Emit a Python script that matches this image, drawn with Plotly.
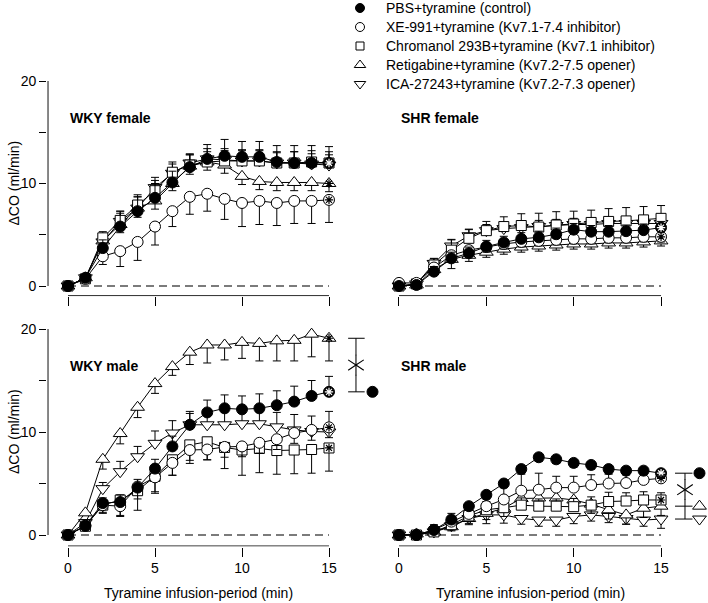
import plotly.graph_objects as go

# time axis (min) and group names
minutes = list(range(16))
groups = ["PBS+tyramine (control)",
          "XE-991+tyramine (Kv7.1-7.4 inhibitor)",
          "Chromanol 293B+tyramine (Kv7.1 inhibitor)",
          "Retigabine+tyramine (Kv7.2-7.5 opener)",
          "ICA-27243+tyramine (Kv7.2-7.3 opener)"]
panel_titles = ["WKY female", "SHR female", "WKY male", "SHR male"]

# WKY female
pbs_wf = [0, 0.8, 3.7, 5.8, 7.3, 8.6, 10.1, 11.6, 12.4, 12.7, 12.6, 12.6, 12.1, 12.0, 12.0, 12.0]
pbs_wf_err = [0, 0.3, 0.8, 1.3, 1.4, 1.4, 1.1, 1.2, 1.4, 1.6, 1.5, 1.5, 1.6, 1.7, 1.7, 1.6]
xe_wf = [0, 0.7, 2.9, 3.4, 4.3, 5.8, 7.3, 8.7, 9.0, 8.5, 8.1, 8.3, 8.1, 8.3, 8.3, 8.4]
xe_wf_err = [0, 0.3, 0.8, 1.5, 1.8, 1.8, 1.5, 1.7, 1.7, 2.0, 2.3, 2.3, 2.2, 2.2, 2.2, 2.2]
chr_wf = [0, 0.7, 4.7, 6.4, 7.9, 9.3, 11.1, 11.8, 12.1, 12.2, 12.2, 12.2, 12.0, 12.0, 12.1, 12.0]
chr_wf_err = [0, 0.3, 0.6, 0.9, 1.0, 1.0, 1.0, 1.0, 1.0, 1.0, 1.1, 1.1, 1.1, 1.1, 1.1, 1.1]
ret_wf = [0, 0.8, 4.4, 6.0, 7.6, 8.3, 10.0, 11.7, 12.1, 11.8, 10.7, 10.2, 10.1, 10.1, 10.1, 10.0]
ret_wf_err = [0, 0.2, 0.6, 0.8, 0.9, 0.8, 0.7, 0.8, 0.8, 0.8, 0.8, 0.8, 0.8, 0.8, 0.8, 0.8]
ica_wf = [0, 0.8, 4.3, 6.3, 7.6, 9.6, 11.0, 12.0, 12.4, 12.3, 12.2, 12.2, 12.0, 12.0, 11.9, 11.8]
ica_wf_err = [0, 0.3, 0.5, 1.0, 1.1, 1.0, 0.9, 0.9, 1.0, 1.1, 1.0, 1.0, 1.0, 1.1, 1.0, 1.0]

# SHR female
pbs_sf = [0, 0.1, 1.4, 2.7, 3.2, 3.85, 4.25, 4.6, 4.75, 5.05, 5.5, 5.3, 5.3, 5.35, 5.45, 5.7]
pbs_sf_err = [0, 0.1, 0.5, 0.6, 0.6, 0.6, 0.6, 0.6, 0.6, 0.6, 0.6, 0.6, 0.6, 0.6, 0.6, 0.6]
xe_sf = [0.3, 0.3, 1.8, 3.0, 3.5, 3.8, 4.1, 4.3, 4.4, 4.5, 4.6, 4.6, 4.7, 4.7, 4.8, 4.8]
xe_sf_err = [0, 0.1, 0.4, 0.5, 0.5, 0.5, 0.5, 0.5, 0.5, 0.5, 0.5, 0.5, 0.5, 0.5, 0.5, 0.5]
chr_sf = [0, 0.2, 2.05, 3.5, 4.65, 5.4, 5.8, 5.9, 5.75, 5.95, 6.05, 6.2, 6.3, 6.35, 6.45, 6.6]
chr_sf_err = [0, 0.2, 0.6, 1.05, 0.9, 0.9, 0.95, 1.15, 1.35, 1.3, 1.25, 1.2, 1.25, 1.3, 1.3, 1.25]
ret_sf = [0, 0.1, 1.6, 2.6, 3.0, 3.3, 3.6, 3.8, 3.9, 4.0, 4.1, 4.1, 4.2, 4.2, 4.3, 4.4]
ret_sf_err = [0, 0.1, 0.5, 0.9, 0.6, 0.5, 0.5, 0.5, 0.5, 0.5, 0.5, 0.5, 0.5, 0.5, 0.5, 0.5]
ica_sf = [0, 0.2, 2.2, 3.9, 4.9, 5.4, 5.6, 5.7, 5.8, 5.9, 6.0, 6.0, 6.1, 6.1, 6.1, 6.1]
ica_sf_err = [0, 0.2, 0.5, 0.6, 0.6, 0.6, 0.6, 0.6, 0.6, 0.6, 0.6, 0.6, 0.6, 0.6, 0.6, 0.6]

# WKY male
pbs_wm = [0, 0.9, 3.1, 3.2, 4.6, 6.45, 8.6, 10.7, 11.9, 12.3, 12.2, 12.3, 12.6, 12.95, 13.5, 13.9]
pbs_wm_err = [0, 0.3, 0.5, 0.7, 0.8, 0.9, 1.0, 1.1, 1.2, 1.3, 1.3, 1.4, 1.4, 1.5, 1.5, 1.5]
xe_wm = [0, 0.9, 2.9, 2.8, 4.7, 5.6, 7.0, 8.25, 8.3, 8.55, 8.6, 8.95, 9.3, 9.9, 10.2, 10.45]
xe_wm_err = [0, 0.2, 0.7, 1.0, 1.2, 1.4, 1.2, 1.0, 1.0, 1.0, 1.0, 1.0, 1.0, 1.0, 1.0, 1.0]
chr_wm = [0, 0.85, 2.9, 3.4, 4.3, 5.7, 7.3, 8.75, 9.05, 8.5, 8.25, 8.4, 8.2, 8.25, 8.3, 8.45]
chr_wm_err = [0, 0.3, 0.8, 1.5, 1.9, 1.65, 1.5, 1.8, 1.75, 2.05, 2.45, 2.35, 2.3, 2.3, 2.3, 2.25]
ret_wm = [0, 2.15, 7.35, 9.85, 12.4, 14.7, 16.35, 17.75, 18.45, 18.45, 18.7, 18.6, 18.85, 18.9, 19.5, 19.1]
ret_wm_err = [0, 0.2, 0.95, 1.0, 1.0, 0.95, 0.85, 1.2, 1.75, 1.45, 1.55, 1.7, 1.95, 2.0, 2.2, 2.2]
ica_wm = [0, 1.2, 4.5, 6.15, 7.6, 8.9, 9.9, 10.7, 10.7, 10.7, 10.8, 10.8, 10.5, 10.2, 10.05, 10.0]
ica_wm_err = [0, 0.3, 0.6, 1.0, 1.0, 1.2, 1.2, 1.3, 1.3, 1.4, 1.4, 1.4, 1.4, 1.5, 1.5, 2.0]

# SHR male
pbs_sm = [0, 0.0, 0.5, 1.5, 2.8, 3.9, 5.0, 6.4, 7.55, 7.35, 7.0, 6.8, 6.4, 6.25, 6.25, 6.0]
pbs_sm_err = [0, 0, 0.3, 0.4, 0.4, 0.4, 0.4, 0.4, 0.4, 0.4, 0.4, 0.4, 0.4, 0.4, 0.4, 0.4]
xe_sm = [0, 0, 0.5, 1.3, 2.05, 2.8, 3.45, 4.3, 4.4, 4.6, 4.6, 4.85, 5.0, 5.05, 5.35, 5.5]
xe_sm_err = [0, 0, 0.5, 0.8, 0.9, 1.2, 1.3, 1.6, 1.6, 1.1, 1.1, 1.0, 0.9, 0.8, 0.8, 0.7]
chr_sm = [0, 0, 0.3, 1.0, 1.85, 2.45, 2.65, 2.9, 2.8, 2.8, 2.75, 2.9, 3.25, 3.3, 3.4, 3.4]
chr_sm_err = [0, 0, 0.3, 0.6, 1.2, 0.8, 0.8, 0.7, 0.7, 0.7, 0.8, 0.8, 0.9, 0.8, 0.8, 0.7]
ret_sm = [0, 0.1, 0.3, 0.8, 1.6, 2.1, 2.6, 3.55, 3.6, 3.6, 3.4, 3.0, 2.45, 1.95, 2.6, 2.8]
ret_sm_err = [0, 0, 0.2, 0.4, 0.5, 0.6, 0.8, 0.9, 0.9, 0.9, 0.9, 0.9, 0.9, 0.9, 0.9, 0.9]
ica_sm = [0, 0, 0.3, 0.9, 1.6, 1.95, 1.95, 1.6, 1.45, 1.45, 1.8, 1.95, 1.8, 1.6, 1.45, 1.55]
ica_sm_err = [0, 0, 0.2, 0.4, 0.6, 0.85, 0.8, 0.55, 0.6, 0.6, 0.7, 0.6, 0.6, 0.55, 0.6, 0.9]

panel_data = [
    [(pbs_wf, pbs_wf_err), (xe_wf, xe_wf_err), (chr_wf, chr_wf_err), (ret_wf, ret_wf_err), (ica_wf, ica_wf_err)],
    [(pbs_sf, pbs_sf_err), (xe_sf, xe_sf_err), (chr_sf, chr_sf_err), (ret_sf, ret_sf_err), (ica_sf, ica_sf_err)],
    [(pbs_wm, pbs_wm_err), (xe_wm, xe_wm_err), (chr_wm, chr_wm_err), (ret_wm, ret_wm_err), (ica_wm, ica_wm_err)],
    [(pbs_sm, pbs_sm_err), (xe_sm, xe_sm_err), (chr_sm, chr_sm_err), (ret_sm, ret_sm_err), (ica_sm, ica_sm_err)],
]

# marker style per group: symbol, fill, size
styles = [("circle", "black", 11), ("circle", "white", 11), ("square", "white", 10),
          ("triangle-up", "white", 12), ("triangle-down", "white", 12)]
# error bar direction per panel (1 = up, -1 = down), same order as groups
err_dir = [[1, -1, 1, -1, 1], [1, -1, 1, -1, 1], [1, -1, -1, -1, 1], [-1, 1, 1, -1, -1]]
# groups carrying a significance star on the last point
star_groups = [[0, 1, 3], [0, 1], [0, 1, 2, 3], [0, 1, 2]]

FONT = "Arial, Liberation Sans, sans-serif"
W, H = 708, 603

# axis ranges and the detached axis line positions
xr_left = [-1.2, 17.9]
xr_right = [-1.2, 17.6]
yr_top = [-1.0, 20]
yr_bot = [-1.12, 20]
xline_top = -0.95
xline_bot = -1.07
yline_x = -1.15

fig = go.Figure()

draw_order = [4, 3, 2, 1, 0]
for p in range(4):
    ax = "" if p == 0 else str(p + 1)
    for g in draw_order:
        vals, err = panel_data[p][g]
        sym, fill, size = styles[g]
        zero = [0] * len(err)
        up = err_dir[p][g] > 0
        fig.add_trace(go.Scatter(
            x=minutes, y=vals, mode="lines+markers",
            line=dict(color="black", width=1),
            marker=dict(symbol=sym, size=size, color=fill, line=dict(color="black", width=1)),
            error_y=dict(type="data", symmetric=False,
                         array=err if up else zero, arrayminus=zero if up else err,
                         color="black", thickness=1, width=4),
            xaxis="x" + ax, yaxis="y" + ax, showlegend=False, cliponaxis=False))
    # stars on the final points
    for g in star_groups[p]:
        vals = panel_data[p][g][0]
        c = "white" if g == 0 else "black"
        fig.add_trace(go.Scatter(
            x=[minutes[-1]], y=[vals[-1]], mode="markers",
            marker=dict(symbol="asterisk-open", size=7, color=c, line=dict(color=c, width=1.2)),
            xaxis="x" + ax, yaxis="y" + ax, showlegend=False, cliponaxis=False,
            hoverinfo="skip"))

shapes = []
annotations = []
for p in range(4):
    ax = "" if p == 0 else str(p + 1)
    xref, yref = "x" + ax, "y" + ax
    xl = xline_top if p < 2 else xline_bot
    # detached x axis line
    shapes.append(dict(type="line", xref=xref, yref=yref, x0=0, x1=15, y0=xl, y1=xl,
                       line=dict(color="black", width=1)))
    # dashed zero line
    shapes.append(dict(type="line", xref=xref, yref=yref, x0=0, x1=15, y0=0, y1=0,
                       line=dict(color="#505050", width=1.3, dash="8px,5px"), layer="below"))
    if p % 2 == 0:
        shapes.append(dict(type="line", xref=xref, yref=yref, x0=yline_x, x1=yline_x, y0=0, y1=20,
                           line=dict(color="black", width=1)))
    annotations.append(dict(text="<b>%s</b>" % panel_titles[p], xref=xref, yref=yref,
                            x=0, y=16.4, xanchor="left", yanchor="middle", showarrow=False,
                            font=dict(size=14, family=FONT, color="black")))


def bracket(xref, yref, xv, x0, x1, y_top, y_bot, gap_mid):
    for yy in [y_top, y_bot]:
        shapes.append(dict(type="line", xref=xref, yref=yref, x0=x0, x1=x1, y0=yy, y1=yy,
                           line=dict(color="black", width=1)))
    shapes.append(dict(type="line", xref=xref, yref=yref, x0=xv, x1=xv, y0=y_top, y1=gap_mid + 0.95,
                       line=dict(color="black", width=1)))
    shapes.append(dict(type="line", xref=xref, yref=yref, x0=xv, x1=xv, y0=gap_mid - 0.95, y1=y_bot,
                       line=dict(color="black", width=1)))


def big_star(xa, ya, xv, yv):
    for s in ["y-up-open", "y-down-open"]:
        fig.add_trace(go.Scatter(x=[xv], y=[yv], mode="markers",
                                 marker=dict(symbol=s, size=13, color="black",
                                             line=dict(color="black", width=1.1)),
                                 xaxis=xa, yaxis=ya, showlegend=False, cliponaxis=False,
                                 hoverinfo="skip"))


def key(xa, ya, xv, yv, g, shrink=0):
    sym, fill, size = styles[g]
    fig.add_trace(go.Scatter(x=[xv], y=[yv], mode="markers",
                             marker=dict(symbol=sym, size=size - shrink, color=fill,
                                         line=dict(color="black", width=1)),
                             xaxis=xa, yaxis=ya, showlegend=False, cliponaxis=False,
                             hoverinfo="skip"))


# WKY male: retigabine vs control
top, bot = ret_wm[-1], pbs_wm[-1]
mid = (top + bot) / 2
bracket("x3", "y3", 16.55, 16.1, 17.05, top, bot, mid)
big_star("x3", "y3", 16.55, mid)
key("x3", "y3", 17.5, bot, 0)

# SHR male: control vs retigabine / ICA
top, m2, bot = pbs_sm[-1], ret_sm[-1], ica_sm[-1]
mid = (top + m2) / 2
bracket("x4", "y4", 16.37, 15.8, 16.8, top, bot, mid)
shapes.append(dict(type="line", xref="x4", yref="y4", x0=15.8, x1=16.8, y0=m2, y1=m2,
                   line=dict(color="black", width=1)))
big_star("x4", "y4", 16.37, mid)
key("x4", "y4", 17.2, top, 0)
key("x4", "y4", 17.2, m2, 3)
key("x4", "y4", 17.2, bot, 4)

# legend drawn on a hidden pixel-scaled overlay axis
for g in range(5):
    key("x5", "y5", 360, 8 + 19 * g, g, shrink=2)
    annotations.append(dict(text=groups[g], xref="x5", yref="y5", x=384, y=8 + 19 * g,
                            xanchor="left", yanchor="middle", showarrow=False,
                            font=dict(size=14, family=FONT, color="black")))

# axis titles
for ya in ["y", "y3"]:
    annotations.append(dict(text="\u0394CO (ml/min)", xref="paper", yref=ya, x=14 / W, y=10,
                            textangle=-90, showarrow=False, xanchor="center", yanchor="middle",
                            font=dict(size=14, family=FONT, color="black")))
for xa in ["x3", "x4"]:
    annotations.append(dict(text="Tyramine infusion-period (min)", xref=xa, yref="paper",
                            x=7.5, y=1 - 593 / H, showarrow=False, yanchor="middle",
                            font=dict(size=14, family=FONT, color="black")))

xdom_left = [(68 + 17.4 * xr_left[0]) / W, (68 + 17.4 * xr_left[1]) / W]
xdom_right = [(399 + 17.47 * xr_right[0]) / W, (399 + 17.47 * xr_right[1]) / W]
ydom_top = [1 - (286 - 10.25 * yr_top[0]) / H, 1 - (286 - 10.25 * yr_top[1]) / H]
ydom_bot = [1 - (535 - 10.3 * yr_bot[0]) / H, 1 - (535 - 10.3 * yr_bot[1]) / H]

xcommon = dict(tickvals=[0, 5, 10, 15], ticks="outside", ticklen=9, tickcolor="black",
               showline=False, showgrid=False, zeroline=False,
               tickfont=dict(size=14, family=FONT, color="black"))
ybase = dict(showline=False, showgrid=False, zeroline=False)
yleft = dict(tickvals=[0, 5, 10, 15, 20], ticktext=["0", "", "10", "", "20"], ticks="outside",
             ticklen=7, tickcolor="black", tickfont=dict(size=14, family=FONT, color="black"))
yright = dict(showticklabels=False, ticks="")
hidden = dict(visible=False, showgrid=False, zeroline=False, domain=[0, 1], fixedrange=True)

fig.update_layout(
    width=W, height=H, margin=dict(l=0, r=0, t=0, b=0, autoexpand=False),
    plot_bgcolor="rgba(0,0,0,0)", paper_bgcolor="white", showlegend=False,
    font=dict(family=FONT, size=14, color="black"),
    xaxis=dict(domain=xdom_left, range=xr_left, anchor="y", showticklabels=False, **xcommon),
    xaxis2=dict(domain=xdom_right, range=xr_right, anchor="y2", showticklabels=False, **xcommon),
    xaxis3=dict(domain=xdom_left, range=xr_left, anchor="y3", **xcommon),
    xaxis4=dict(domain=xdom_right, range=xr_right, anchor="y4", **xcommon),
    xaxis5=dict(range=[0, W], anchor="y5", **hidden),
    yaxis=dict(domain=ydom_top, range=yr_top, anchor="x", **ybase, **yleft),
    yaxis2=dict(domain=ydom_top, range=yr_top, anchor="x2", **ybase, **yright),
    yaxis3=dict(domain=ydom_bot, range=yr_bot, anchor="x3", **ybase, **yleft),
    yaxis4=dict(domain=ydom_bot, range=yr_bot, anchor="x4", **ybase, **yright),
    yaxis5=dict(range=[H, 0], anchor="x5", **hidden),
    shapes=shapes, annotations=annotations,
)

# the page body has a default 8px margin; drop it so the figure fills the window
fig.write_html("out.html", config={"displayModeBar": False},
               post_script="document.body.style.margin='0';"
                           "document.body.style.overflow='hidden';")
